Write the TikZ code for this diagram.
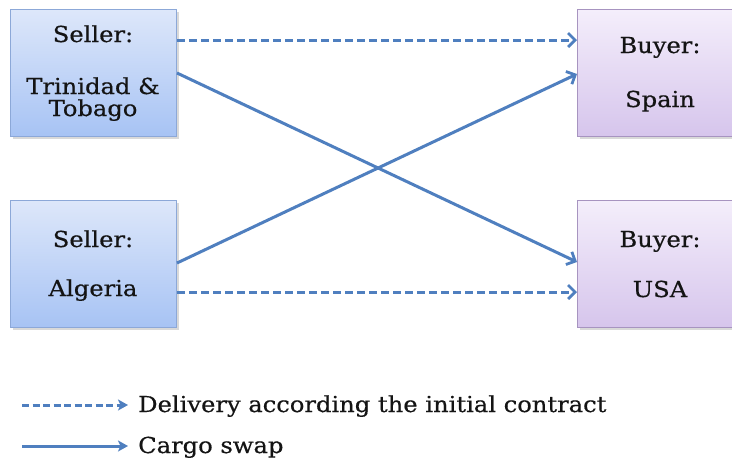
\documentclass[tikz,border=0pt]{standalone}
\usepackage{fontspec}
\setmainfont{DejaVu Serif}[FakeStretch=1.1,FakeBold=0.5]
\usetikzlibrary{arrows.meta,shadows}

\definecolor{linkblue}{HTML}{4F7FBF}
\definecolor{sellertop}{HTML}{DDE7FA}
\definecolor{sellerbot}{HTML}{A7C3F4}
\definecolor{sellerline}{HTML}{8CA8D8}
\definecolor{buyertop}{HTML}{F4EEFB}
\definecolor{buyerbot}{HTML}{D6C5EC}
\definecolor{buyerline}{HTML}{A794C0}
\definecolor{inktext}{HTML}{141414}

\begin{document}
\begin{tikzpicture}[x=1pt,y=-1pt,
  party/.style={draw, line width=1pt, minimum width=166pt, minimum height=127pt,
    anchor=north west, inner sep=0pt,
    drop shadow={shadow xshift=2pt, shadow yshift=-2pt, opacity=0.3}},
  seller/.style={party, draw=sellerline, top color=sellertop, bottom color=sellerbot},
  buyer/.style={party, draw=buyerline, top color=buyertop, bottom color=buyerbot},
  boxtext/.style={font=\fontsize{22}{26}\selectfont, text=inktext, anchor=base, inner sep=0pt},
  legendtext/.style={font=\fontsize{22}{26}\selectfont, text=inktext, anchor=base west, inner sep=0pt},
  contract/.style={draw=linkblue, line width=3pt, dash pattern=on 8pt off 4pt,
    -{Straight Barb[length=7pt,width=14pt,line width=2.8pt]}},
  swap/.style={draw=linkblue, line width=3pt,
    -{Straight Barb[length=7pt,width=14pt,line width=2.8pt]}},
  keycontract/.style={draw=linkblue, line width=3pt, dash pattern=on 7pt off 3.5pt,
    -{Stealth[length=10pt,width=11pt,inset=2.5pt]}},
  keyswap/.style={draw=linkblue, line width=3pt,
    -{Stealth[length=10pt,width=11pt,inset=2.5pt]}},
]
\useasboundingbox (0,0) rectangle (732,459);
\clip (0,0) rectangle (732,459);

% parties
\node[seller] (tt)  at (10,9)   {};
\node[seller] (alg) at (10,200) {};
\node[buyer]  (sp)  at (577,9)  {};
\node[buyer]  (usa) at (577,200) {};

% labels inside the boxes
\node[boxtext] (ttA)  at (93,42)  {Seller:};
\node[boxtext] (ttB)  at (93,94)  {Trinidad \&};
\node[boxtext] (ttC)  at (93,116) {Tobago};
\node[boxtext] (algA) at (93,247) {Seller:};
\node[boxtext] (algB) at (93,296) {Algeria};
\node[boxtext] (spA)  at (660,53)  {Buyer:};
\node[boxtext] (spB)  at (660,107) {Spain};
\node[boxtext] (usaA) at (660,247) {Buyer:};
\node[boxtext] (usaB) at (660,297) {USA};

% contracted deliveries
\draw[contract] (tt.east |- 0,40) -- (sp.west |- 0,40);
\draw[contract] (alg.east |- 0,292) -- (usa.west |- 0,292);

% swapped cargoes
\draw[swap] (tt.east |- 0,73) -- (usa.west |- 0,262);
\draw[swap] (alg.east |- 0,263) -- (sp.west |- 0,74);

% legend
\coordinate (k1a) at (22,405);
\coordinate (k1b) at (128,405);
\coordinate (k2a) at (22,446);
\coordinate (k2b) at (128,446);
\draw[keycontract] (k1a) -- (k1b);
\draw[keyswap] (k2a) -- (k2b);
\node[legendtext] (k1t) at (138,412) {Delivery according the initial contract};
\node[legendtext] (k2t) at (138,453) {Cargo swap};
\end{tikzpicture}
\end{document}
